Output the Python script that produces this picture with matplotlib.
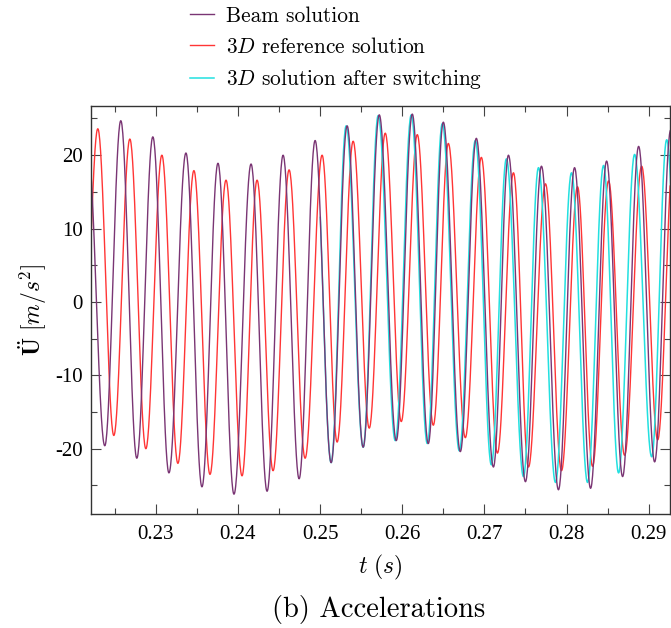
import numpy as np
import matplotlib
matplotlib.use("Agg")
import matplotlib.pyplot as plt
from matplotlib.ticker import MultipleLocator

plt.rcParams['mathtext.fontset'] = 'cm'

# extrema (time in s, acceleration in m/s^2)
beam_t = [0.22171, 0.22378, 0.22573, 0.22768, 0.22963, 0.23159, 0.23366, 0.23561,
          0.23756, 0.23951, 0.24159, 0.24354, 0.24549, 0.24744, 0.24939, 0.25134,
          0.25329, 0.25524, 0.25720, 0.25927, 0.26122, 0.26317, 0.26500, 0.26707,
          0.26902, 0.27110, 0.27293, 0.27500, 0.27695, 0.27902, 0.28098, 0.28293,
          0.28488, 0.28683, 0.28878, 0.29073, 0.29268, 0.29463]
beam_v = [21.0, -19.6, 24.7, -21.3, 22.5, -23.3, 20.3, -25.2,
          18.9, -26.2, 18.8, -25.8, 20.0, -24.1, 22.0, -21.9,
          24.0, -19.8, 25.5, -18.9, 25.6, -19.3, 24.5, -20.4,
          22.3, -22.5, 20.0, -24.5, 18.5, -25.6, 18.3, -25.4,
          19.2, -23.8, 21.2, -21.8, 23.4, -20.0]

ref_t = [0.22098, 0.22293, 0.22488, 0.22683, 0.22878, 0.23073, 0.23268, 0.23463,
         0.23659, 0.23854, 0.24049, 0.24232, 0.24427, 0.24622, 0.24817, 0.25024,
         0.25207, 0.25402, 0.25598, 0.25793, 0.25988, 0.26183, 0.26378, 0.26561,
         0.26768, 0.26963, 0.27159, 0.27354, 0.27537, 0.27744, 0.27939, 0.28134,
         0.28317, 0.28512, 0.28707, 0.28915, 0.29110, 0.29305]
ref_v = [-16.0, 23.6, -18.2, 22.2, -20.0, 20.0, -22.0, 17.9,
         -23.5, 16.6, -23.7, 16.6, -23.0, 18.0, -21.3, 20.0,
         -19.1, 21.9, -17.2, 23.0, -16.3, 22.8, -16.8, 21.6,
         -18.5, 19.7, -20.6, 17.6, -22.5, 16.1, -23.0, 15.7,
         -22.4, 16.5, -20.9, 18.5, -18.8, 20.5]

switch_time = 0.25
sw_t = [0.24939, 0.25134, 0.25317, 0.25524, 0.25707, 0.25915, 0.26110, 0.26305,
        0.26488, 0.26695, 0.26890, 0.27085, 0.27268, 0.27476, 0.27659, 0.27866,
        0.28061, 0.28256, 0.28451, 0.28634, 0.28829, 0.29037, 0.29220, 0.29415]
sw_v = [22.0, -21.9, 24.0, -19.8, 25.4, -18.9, 25.5, -19.3,
        24.3, -20.3, 22.0, -22.2, 19.5, -23.8, 18.3, -24.6,
        17.6, -24.6, 18.6, -23.3, 20.1, -21.1, 22.1, -20.0]

labels = ['Beam solution', r'$3D$ reference solution', r'$3D$ solution after switching']
colors = ['#7a3574', '#ff3535', '#22e0e0']
xticks = [0.23, 0.24, 0.25, 0.26, 0.27, 0.28, 0.29]
yticks = [-20, -10, 0, 10, 20]


def wave(tk, vk, n=40):
    """smooth half-cosine between consecutive extrema"""
    ts, vs = [], []
    for i in range(len(tk) - 1):
        s = np.linspace(0, 1, n, endpoint=False)
        ts.append(tk[i] + (tk[i + 1] - tk[i]) * s)
        vs.append(vk[i] + (vk[i + 1] - vk[i]) * (1 - np.cos(np.pi * s)) / 2)
    ts.append([tk[-1]])
    vs.append([vk[-1]])
    return np.concatenate(ts), np.concatenate(vs)


fig = plt.figure(figsize=(6.71, 6.28), dpi=100)
ax = fig.add_axes([0.1356, 0.1815, 0.8629, 0.6497])

t_ref, v_ref = wave(ref_t, ref_v)
t_sw, v_sw = wave(sw_t, sw_v)
keep = t_sw >= switch_time
t_b, v_b = wave(beam_t, beam_v)

l_ref, = ax.plot(t_ref, v_ref, color=colors[1], lw=1.0)
l_sw, = ax.plot(t_sw[keep], v_sw[keep], color=colors[2], lw=1.1)
l_b, = ax.plot(t_b, v_b, color=colors[0], lw=1.0)

ax.set_xlim(0.2221, 0.2926)
ax.set_ylim(-28.9, 26.7)
ax.xaxis.set_minor_locator(MultipleLocator(0.005))
ax.yaxis.set_minor_locator(MultipleLocator(5))
ax.set_xticks(xticks)
ax.set_xticklabels(['%.2f' % x for x in xticks])
ax.set_yticks(yticks)
ax.set_yticklabels([str(y) for y in yticks])
ax.tick_params(which='both', direction='in', top=True, right=True, color='#444444',
               labelsize=15, width=0.8)
ax.tick_params(axis='x', pad=8)
ax.tick_params(axis='y', pad=6)
ax.tick_params(which='major', length=7)
ax.tick_params(which='minor', length=4)
for lab in ax.get_xticklabels() + ax.get_yticklabels():
    lab.set_family('Liberation Serif')
for sp in ax.spines.values():
    sp.set_color('#333333')
    sp.set_linewidth(1.0)

ax.set_ylabel(r'$\ddot{\mathbf{U}}\ [m/s^2]$', fontsize=17, labelpad=4)
ax.set_xlabel(r'$t\ (s)$', fontsize=17, labelpad=6)
fig.text(0.565, 0.029, '(b) Accelerations', fontsize=20.5, family='cmr10',
         ha='center', va='center')

leg = fig.legend([l_b, l_ref, l_sw], labels, loc='upper left',
                 bbox_to_anchor=(0.283, 0.99), frameon=False,
                 borderpad=0, borderaxespad=0,
                 handlelength=1.12, handletextpad=0.58, labelspacing=0.5,
                 prop={'family': 'cmr10', 'size': 15.4})

fig.savefig('out.png', dpi=100)
